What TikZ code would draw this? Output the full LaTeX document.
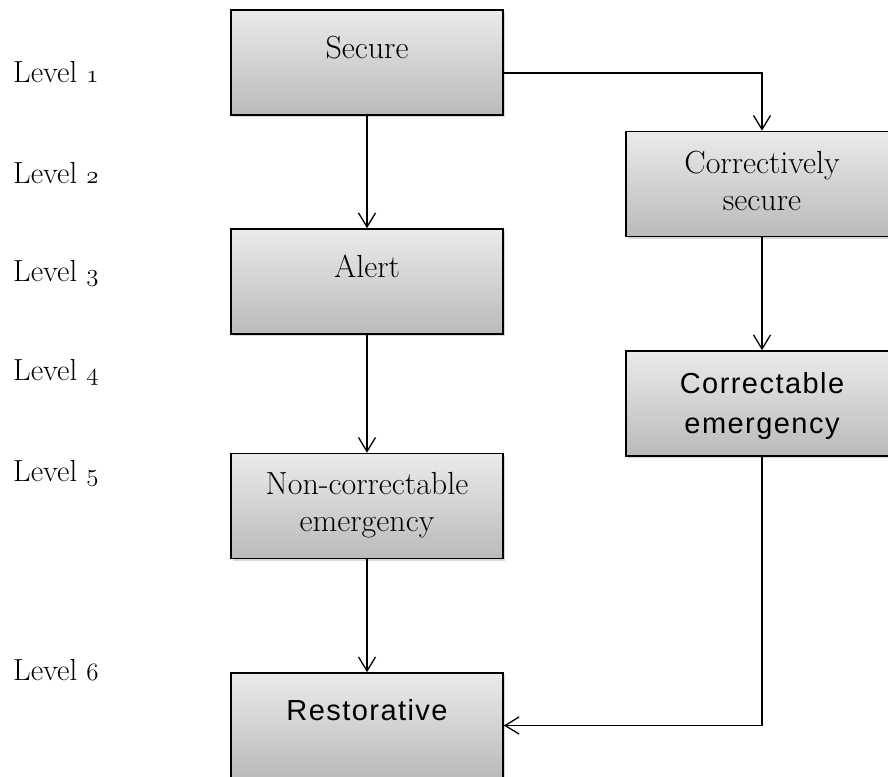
\documentclass[tikz,border=0pt]{standalone}
\usepackage{fontspec}
\newfontfamily\boxsans{Liberation Sans}[LetterSpace=5]
\usetikzlibrary{arrows.meta,shadows}
% old-style figures taken from the Latin Modern math italic font
\newcommand\osnum[1]{{\fontsize{36}{36}\usefont{OML}{lmm}{m}{it}#1}}

\begin{document}
\begin{tikzpicture}[x=1pt,y=-1pt,
  statebox/.style={draw=black, line width=1.6pt,
    top color=black!8, bottom color=black!27,
    minimum width=272pt, minimum height=105pt, inner sep=0pt,
    drop shadow={shadow xshift=1.5pt, shadow yshift=-2pt, opacity=0.3}},
  serifbox/.style={font=\fontsize{32}{37}\selectfont, anchor=base, inner sep=0pt},
  sansbox/.style={font=\boxsans\fontsize{29}{40}\selectfont, anchor=base, inner sep=0pt},
  level/.style={font=\fontsize{30.5}{36}\selectfont, anchor=base west, inner sep=0pt},
  flow/.style={line width=1.3pt,
    -{Straight Barb[length=14pt,width=17pt,line width=1.3pt]}}
]
\useasboundingbox (0,0) rectangle (888,776);

% level labels
\node[level] (lv1) at (13,82)  {Level \osnum{1}};
\node[level] (lv2) at (13,183) {Level \osnum{2}};
\node[level] (lv3) at (13,281) {Level \osnum{3}};
\node[level] (lv4) at (13,380) {Level \osnum{4}};
\node[level] (lv5) at (13,481) {Level \osnum{5}};
\node[level] (lv6) at (13,680) {Level \osnum{6}};

% state boxes
\node[statebox] (secure)  at (367,62.5)  {};
\node[statebox] (alert)   at (367,281.5) {};
\node[statebox] (noncorr) at (367,506)   {};
\node[statebox] (restor)  at (367,725.5) {};
\node[statebox] (corrsec) at (762,184)   {};
\node[statebox] (correm)  at (762,403.5) {};

% box captions
\node[serifbox] (secureT)  at (367,59)  {Secure};
\node[serifbox] (alertT)   at (367,277) {Alert};
\node[serifbox] (noncorrT) at (367,494)
  {\begin{tabular}[t]{@{}c@{}}Non-correctable\\emergency\end{tabular}};
\node[sansbox]  (restorT)  at (367,720) {Restorative};
\node[serifbox] (corrsecT) at (762,173)
  {\begin{tabular}[t]{@{}c@{}}Correctively\\secure\end{tabular}};
\node[sansbox]  (corremT)  at (762,393)
  {\begin{tabular}[t]{@{}c@{}}Correctable\\emergency\end{tabular}};

% transitions
\draw[flow] (secure.south) -- (alert.north);
\draw[flow] (alert.south) -- (noncorr.north);
\draw[flow] (noncorr.south) -- (restor.north);
\draw[flow] ([yshift=-10.5pt]secure.east) -| (corrsec.north);
\draw[flow] (corrsec.south) -- (correm.north);
\draw[flow] (correm.south) |- (restor.east);
\end{tikzpicture}
\end{document}
